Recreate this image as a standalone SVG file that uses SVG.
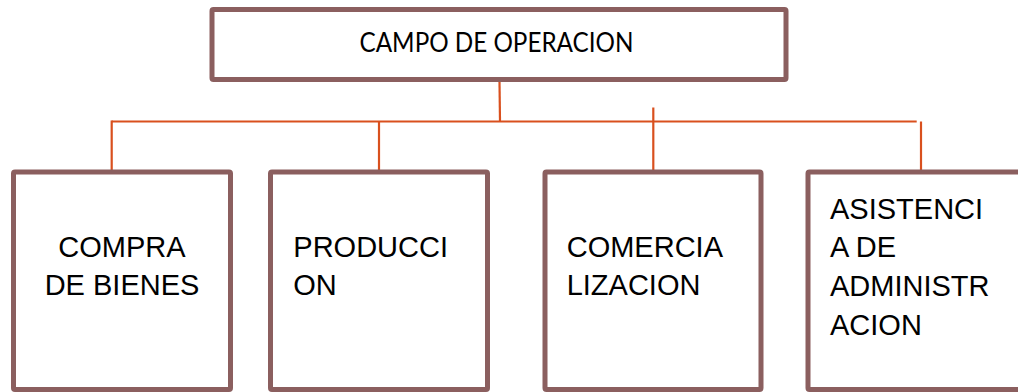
<svg xmlns="http://www.w3.org/2000/svg" width="1018" height="392" viewBox="0 0 1018 392">
<style>
.box{fill:#ffffff;stroke:#8b5f5f;stroke-width:5;}
.conn{stroke:#d9501e;stroke-width:2.2;fill:none;stroke-linecap:butt;}
.t{font-family:"Liberation Sans",Arial,sans-serif;font-size:29px;fill:#000;}
.tc{font-family:Lato,"Open Sans",sans-serif;font-size:27px;fill:#000;}
</style>
<rect width="1018" height="392" fill="#ffffff"/>
<g id="connectors">
<line class="conn" x1="499.5" y1="82" x2="500" y2="121.5"/>
<line class="conn" x1="111.7" y1="121.5" x2="916.7" y2="121.5"/>
<line class="conn" x1="111.7" y1="120.5" x2="111.7" y2="170"/>
<line class="conn" x1="379" y1="121.5" x2="379" y2="170"/>
<line class="conn" x1="653.3" y1="107.5" x2="653.3" y2="170"/>
<line class="conn" x1="921" y1="121.5" x2="921" y2="170"/>
</g>
<g id="node-campo">
<rect class="box" x="212" y="9.5" width="574" height="70" rx="1.5"/>
<text class="tc" x="496.5" y="51.7" text-anchor="middle" textLength="274" lengthAdjust="spacingAndGlyphs">CAMPO DE OPERACION</text>
</g>
<g id="node-compra">
<rect class="box" x="13.5" y="172" width="217" height="217.5" rx="1.5"/>
<text class="t" x="122" y="257.3" text-anchor="middle">COMPRA</text>
<text class="t" x="122" y="294.5" text-anchor="middle">DE BIENES</text>
</g>
<g id="node-produccion">
<rect class="box" x="270.5" y="172" width="217" height="217.5" rx="1.5"/>
<text class="t" x="293.3" y="257">PRODUCCI</text>
<text class="t" x="293.3" y="295">ON</text>
</g>
<g id="node-comercializacion">
<rect class="box" x="545" y="172" width="216" height="217.5" rx="1.5"/>
<text class="t" x="566.7" y="257.3">COMERCIA</text>
<text class="t" x="566.7" y="295">LIZACION</text>
</g>
<g id="node-asistencia">
<rect class="box" x="808" y="172" width="230" height="217.5" rx="1.5"/>
<text class="t" x="830" y="218.5">ASISTENCI</text>
<text class="t" x="830" y="257">A DE</text>
<text class="t" x="830" y="295.5">ADMINISTR</text>
<text class="t" x="830" y="334.5">ACION</text>
</g>
</svg>
